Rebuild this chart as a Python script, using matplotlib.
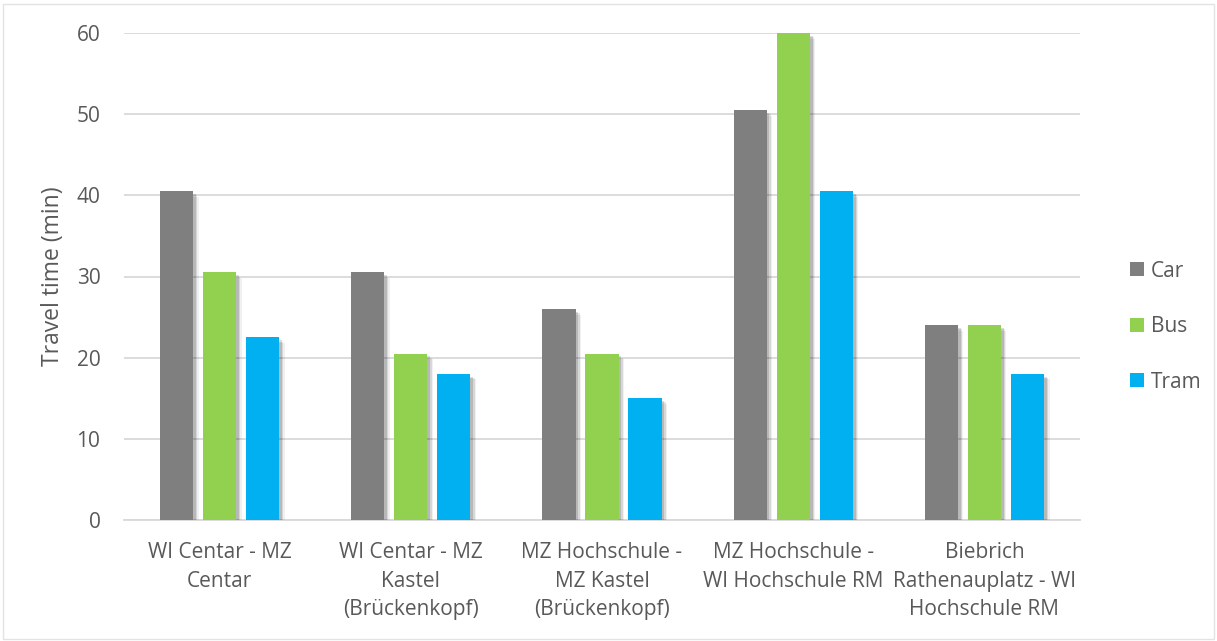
import matplotlib
matplotlib.use("Agg")
import matplotlib.pyplot as plt
import matplotlib.patheffects as pe
from matplotlib.patches import Rectangle
import numpy as np

categories = [
    "WI Centar - MZ\nCentar",
    "WI Centar - MZ\nKastel\n(Brückenkopf)",
    "MZ Hochschule -\nMZ Kastel\n(Brückenkopf)",
    "MZ Hochschule -\nWI Hochschule RM",
    "Biebrich\nRathenauplatz - WI\nHochschule RM",
]
series_names = ["Car", "Bus", "Tram"]
car = [40.5, 30.5, 26, 50.5, 24]
bus = [30.5, 20.5, 20.5, 60, 24]
tram = [22.5, 18, 15, 40.5, 18]
yticks = [0, 10, 20, 30, 40, 50, 60]

colors = ["#7f7f7f", "#92d050", "#00b0f0"]
text_color = "#595959"
grid_color = "#d9d9d9"

plt.rcParams["font.family"] = ["Open Sans", "DejaVu Sans"]

fig = plt.figure(figsize=(12.17, 6.41), dpi=100)
ax = fig.add_axes([124 / 1217, 1 - 520 / 641, (1080 - 124) / 1217, (520 - 33) / 641])

x = np.arange(len(categories))
width = 0.173
step = 0.225
shadow = [
    pe.SimplePatchShadow(offset=(4, -4), shadow_rgbFace="k", alpha=0.06),
    pe.SimplePatchShadow(offset=(3, -3), shadow_rgbFace="k", alpha=0.10),
    pe.SimplePatchShadow(offset=(2, -2), shadow_rgbFace="k", alpha=0.14),
    pe.Normal(),
]
for i, (name, vals) in enumerate(zip(series_names, [car, bus, tram])):
    bars = ax.bar(x + (i - 1) * step, vals, width, color=colors[i], label=name, zorder=3)
    for b in bars:
        b.set_path_effects(shadow)

ax.set_xlim(-0.5, len(categories) - 0.5)
ax.set_ylim(0, 60)
ax.set_yticks(yticks)
ax.set_xticks(x)
ax.set_xticklabels(categories, linespacing=1.47)
ax.grid(axis="y", color=grid_color, linewidth=1.3, zorder=0)
ax.set_axisbelow(True)
for s in ["top", "right", "left"]:
    ax.spines[s].set_visible(False)
ax.spines["bottom"].set_color(grid_color)
ax.spines["bottom"].set_linewidth(1.3)
ax.spines["bottom"].set_zorder(0)
ax.tick_params(axis="both", length=0, labelsize=15, colors=text_color)
ax.tick_params(axis="y", pad=17)
ax.tick_params(axis="x", pad=16)
ax.set_ylabel("Travel time (min)", fontsize=16.5, color=text_color, labelpad=8)

leg = ax.legend(
    loc="center left",
    bbox_to_anchor=(1.033, 0.397),
    frameon=False,
    fontsize=15,
    labelcolor=text_color,
    handlelength=0.65,
    handleheight=0.65,
    handletextpad=0.35,
    labelspacing=1.66,
)
for h in leg.legend_handles:
    h.set_path_effects([])

fig.patches.append(
    Rectangle((3 / 1217, 2 / 641), 1211 / 1217, 635 / 641, transform=fig.transFigure,
              fill=False, edgecolor="#e3e3e3", linewidth=1.0)
)

fig.savefig("out.png", dpi=100)
